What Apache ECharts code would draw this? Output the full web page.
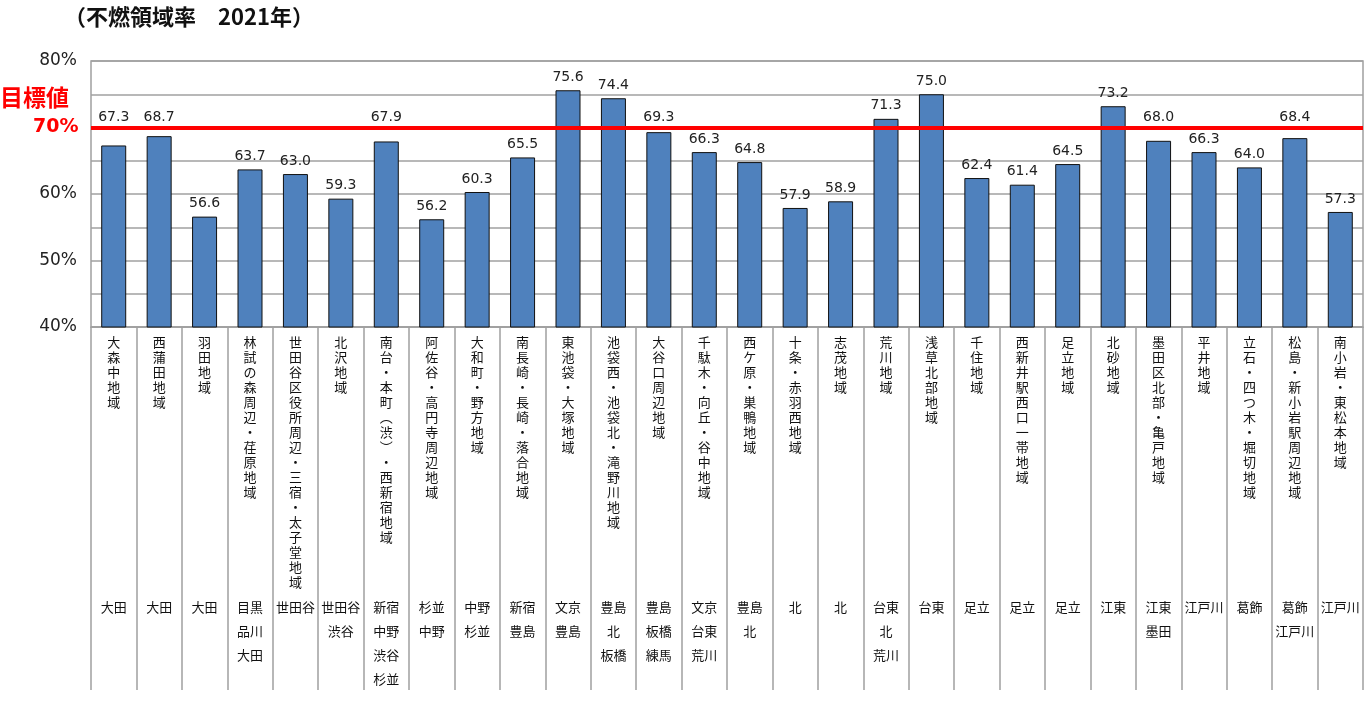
<!DOCTYPE html>
<html>
<head>
<meta charset="utf-8">
<script src="https://cdn.jsdelivr.net/npm/echarts@6/dist/echarts.min.js"></script>
<style>
  html, body { margin: 0; padding: 0; background: #fff; }
  #chart { width: 1371px; height: 702px; }
</style>
</head>
<body>
<div id="chart"></div>
<script>
// 地域名
const areas = [
  '大森中地域', '西蒲田地域', '羽田地域', '林試の森周辺・荏原地域',
  '世田谷区役所周辺・三宿・太子堂地域', '北沢地域', '南台・本町（渋）・西新宿地域',
  '阿佐谷・高円寺周辺地域', '大和町・野方地域', '南長崎・長崎・落合地域',
  '東池袋・大塚地域', '池袋西・池袋北・滝野川地域', '大谷口周辺地域',
  '千駄木・向丘・谷中地域', '西ケ原・巣鴨地域', '十条・赤羽西地域', '志茂地域',
  '荒川地域', '浅草北部地域', '千住地域', '西新井駅西口一帯地域', '足立地域',
  '北砂地域', '墨田区北部・亀戸地域', '平井地域', '立石・四つ木・堀切地域',
  '松島・新小岩駅周辺地域', '南小岩・東松本地域'
];
// 区
const wards = [
  '大田', '大田', '大田', '目黒\n品川\n大田', '世田谷', '世田谷\n渋谷',
  '新宿\n中野\n渋谷\n杉並', '杉並\n中野', '中野\n杉並', '新宿\n豊島', '文京\n豊島',
  '豊島\n北\n板橋', '豊島\n板橋\n練馬', '文京\n台東\n荒川', '豊島\n北', '北', '北',
  '台東\n北\n荒川', '台東', '足立', '足立', '足立', '江東', '江東\n墨田', '江戸川',
  '葛飾', '葛飾\n江戸川', '江戸川'
];
// 不燃領域率(%)
const rates = [
  67.3, 68.7, 56.6, 63.7, 63.0, 59.3, 67.9, 56.2, 60.3, 65.5, 75.6, 74.4, 69.3, 66.3,
  64.8, 57.9, 58.9, 71.3, 75.0, 62.4, 61.4, 64.5, 73.2, 68.0, 66.3, 64.0, 68.4, 57.3
];
const target = 70;

const jp = '"Noto Sans CJK JP", sans-serif';
const num = '"DejaVu Sans", sans-serif';

// 縦書き風に1文字ずつ改行
function vertical(s) {
  return s.replace('（', '︵').replace('）', '︶').split('').join('\n');
}

// 目標線と重なるラベルは線の上へずらす (1% = 266/40 px)
const pxPerPct = 266 / 40;
const barData = rates.map(function (v) {
  const item = { value: v };
  if (v > 66.5 && v < target) {
    item.label = { offset: [0, -((target - v) * pxPerPct - 2.5)] };
  }
  return item;
});

const chart = echarts.init(document.getElementById('chart'));
chart.setOption({
  animation: false,
  grid: {
    left: 91, right: 8, top: 61, height: 266,
    show: true, borderColor: '#a0a0a0', borderWidth: 1.5
  },
  xAxis: [
    {
      type: 'category',
      data: areas,
      axisLine: { lineStyle: { color: '#a0a0a0', width: 1.5 } },
      axisTick: { show: true, length: 363, lineStyle: { color: '#a0a0a0', width: 1.5 } },
      axisLabel: {
        interval: 0, margin: 8,
        formatter: vertical,
        fontFamily: jp, fontSize: 13, lineHeight: 15, color: '#111'
      }
    },
    {
      type: 'category',
      position: 'bottom',
      offset: 262,
      data: areas,
      axisLine: { show: false },
      axisTick: { show: false },
      axisLabel: {
        interval: 0, margin: 6,
        formatter: function (v, i) { return wards[i]; },
        fontFamily: jp, fontSize: 13, lineHeight: 24, color: '#111'
      }
    }
  ],
  yAxis: {
    type: 'value',
    min: 40, max: 80, interval: 5,
    axisLine: { show: false },
    axisTick: { show: false },
    splitLine: { lineStyle: { color: '#a0a0a0', width: 1.5 } },
    axisLabel: {
      margin: 14,
      formatter: function (v) { return (v % 10 === 0 && v !== 70) ? v + '%' : ''; },
      fontFamily: num, fontSize: 17, color: '#222'
    }
  },
  series: [{
    type: 'bar',
    data: barData,
    barWidth: 25,
    itemStyle: { color: '#4f81bd', borderColor: '#111', borderWidth: 1 },
    label: {
      show: true, position: 'top', distance: 6,
      formatter: function (p) { return p.value.toFixed(1); },
      fontFamily: num, fontSize: 14, color: '#222'
    },
    markLine: {
      silent: true,
      symbol: 'none',
      label: { show: false },
      lineStyle: { color: '#ff0000', width: 4, type: 'solid' },
      data: [{ yAxis: target }]
    }
  }],
  graphic: [
    {
      type: 'text', left: 64, top: 6,
      style: { text: '（不燃領域率　2021年）', font: 'bold 22px ' + jp, fill: '#111' }
    },
    {
      type: 'text', left: 0, top: 86,
      style: { text: '目標値', font: 'bold 23px ' + jp, fill: '#ff0000' }
    },
    {
      type: 'text', left: 33, top: 118,
      style: { text: '70%', font: 'bold 19px ' + num, fill: '#ff0000' }
    }
  ]
});
</script>
</body>
</html>
